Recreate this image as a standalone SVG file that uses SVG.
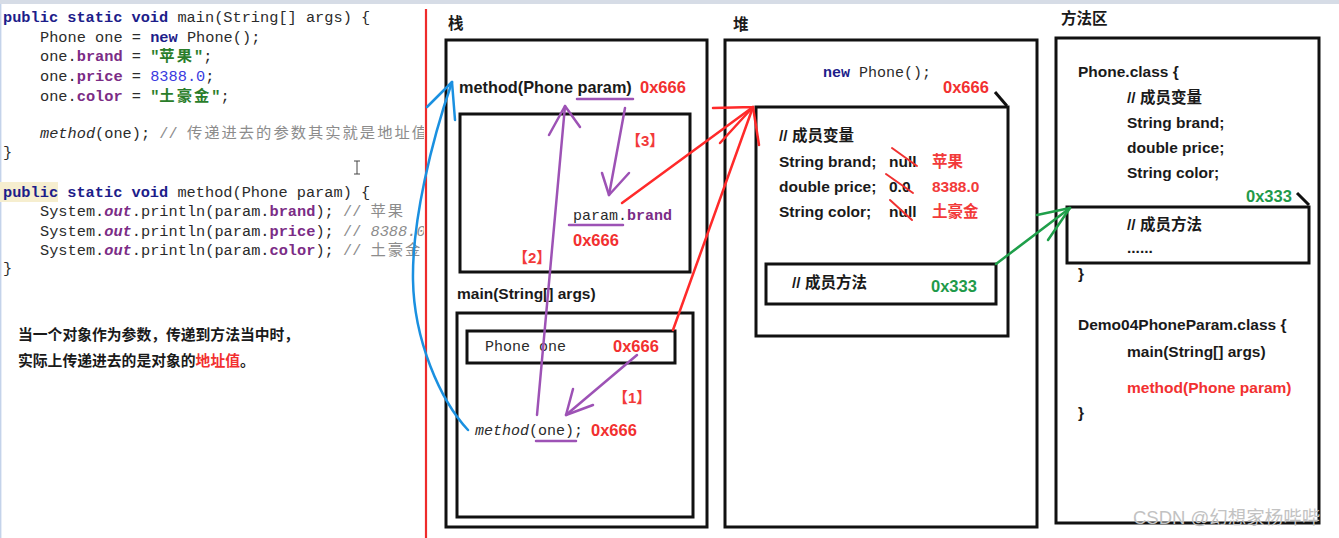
<svg xmlns="http://www.w3.org/2000/svg" width="1339" height="538" viewBox="0 0 1339 538">
  <style>
    .code { font-family: "Liberation Mono", "Noto Sans CJK SC", monospace; font-size: 15.3px; fill: #2b2b2b; }
    .kw { fill: #1d1d8a; font-weight: bold; }
    .fd { fill: #7b2c86; font-weight: bold; }
    .out { fill: #7b2c86; font-weight: bold; font-style: italic; }
    .st { fill: #2a7d2a; font-weight: bold; }
    .nu { fill: #3a3ae0; }
    .cm { fill: #8c8c8c; }
    .cj { letter-spacing: 2px; }
    .it { font-style: italic; }
    .lbl { font-family: "Liberation Sans", "Noto Sans CJK SC", sans-serif; font-weight: bold; font-size: 15.5px; fill: #1a1a1a; }
    .big { font-size: 16.3px; }
    .addr { font-family: "Liberation Sans", sans-serif; font-weight: bold; font-size: 16.5px; fill: #f23030; }
    .val { font-family: "Liberation Sans", "Noto Sans CJK SC", sans-serif; font-weight: bold; font-size: 15.5px; fill: #f23a3a; }
    .tag { font-family: "Liberation Sans", "Noto Sans CJK SC", sans-serif; font-weight: bold; font-size: 15px; fill: #f23a3a; }
    .grn { fill: #1f9a4a; }
    .mono { font-family: "Liberation Mono", monospace; font-size: 15px; fill: #2b2b2b; }
    .box { fill: none; stroke: #111; stroke-width: 3; }
    .ln { fill: none; stroke-width: 2.5; stroke-linecap: round; stroke-linejoin: round; }
    .pu { stroke: #9d52b5; }
    .rd { stroke: #ff2a2a; }
    .bl { stroke: #1a90e0; }
    .gn { stroke: #1f9f4a; }
    .strike { stroke: #f03030; stroke-width: 2; fill: none; stroke-linecap: round; }
  </style>
  <defs>
    <clipPath id="codeClip"><rect x="0" y="0" width="424" height="538"/></clipPath>
  </defs>

  <rect x="0" y="0" width="1339" height="538" fill="#ffffff"/>
  <rect x="0" y="0" width="1339" height="4" fill="#d6dce6"/>
  <line x1="0.7" y1="4" x2="0.7" y2="538" stroke="#c4d3ea" stroke-width="1.4"/>

  <!-- source code panel -->
  <g id="code" clip-path="url(#codeClip)">
    <rect x="0" y="182" width="58" height="20" fill="#f6eecf"/>
    <text class="code" x="3" y="22" xml:space="preserve"><tspan class="kw">public static void</tspan> main(String[] args) {</text>
    <text class="code" x="40" y="42" xml:space="preserve">Phone one = <tspan class="kw">new</tspan> Phone();</text>
    <text class="code" x="40" y="61" xml:space="preserve">one.<tspan class="fd">brand</tspan> = <tspan class="st">"<tspan class="cj">苹果</tspan>"</tspan>;</text>
    <text class="code" x="40" y="81" xml:space="preserve">one.<tspan class="fd">price</tspan> = <tspan class="nu">8388.0</tspan>;</text>
    <text class="code" x="40" y="101" xml:space="preserve">one.<tspan class="fd">color</tspan> = <tspan class="st">"<tspan class="cj">土豪金</tspan>"</tspan>;</text>
    <text class="code" x="40" y="138" xml:space="preserve"><tspan class="it">method</tspan>(one); <tspan class="cm">// <tspan class="cj">传递进去的参数其实就是地址值</tspan></tspan></text>
    <text class="code" x="3" y="157">}</text>
    <text class="code" x="3" y="197" xml:space="preserve"><tspan class="kw">public static void</tspan> method(Phone param) {</text>
    <text class="code" x="40" y="216" xml:space="preserve">System.<tspan class="out">out</tspan>.println(param.<tspan class="fd">brand</tspan>); <tspan class="cm">// <tspan class="cj">苹果</tspan></tspan></text>
    <text class="code" x="40" y="236" xml:space="preserve">System.<tspan class="out">out</tspan>.println(param.<tspan class="fd">price</tspan>); <tspan class="cm">// <tspan class="it">8388.0</tspan></tspan></text>
    <text class="code" x="40" y="255" xml:space="preserve">System.<tspan class="out">out</tspan>.println(param.<tspan class="fd">color</tspan>); <tspan class="cm">// <tspan class="cj">土豪金</tspan></tspan></text>
    <text class="code" x="3" y="273">}</text>
    <!-- text cursor -->
    <path d="M354,161 h6 M357,161 v13 M354,174 h6" stroke="#444" stroke-width="1" fill="none"/>
    <text class="lbl" x="18" y="340" style="font-size:14.8px">当一个对象作为参数，传递到方法当中时，</text>
    <text class="lbl" x="18" y="366" style="font-size:14.8px">实际上传递进去的是对象的<tspan fill="#f23030">地址值</tspan>。</text>
  </g>

  <line x1="426" y1="9" x2="426" y2="538" stroke="#ee2b2b" stroke-width="2.2"/>

  <!-- stack -->
  <g id="stack">
    <text class="lbl" x="448" y="29">栈</text>
    <rect class="box" x="446" y="40" width="261" height="487"/>
    <text class="lbl big" x="459" y="93">method(Phone param)</text>
    <text class="addr" x="640" y="93">0x666</text>
    <g id="method-frame">
      <rect class="box" x="460" y="114" width="230" height="158"/>
      <text class="mono" x="573" y="220">param.<tspan class="fd">brand</tspan></text>
      <text class="addr" x="573" y="246">0x666</text>
    </g>
    <text class="lbl" x="457" y="299">main(String[] args)</text>
    <g id="main-frame">
      <rect class="box" x="457" y="313" width="236" height="204"/>
      <rect class="box" x="467" y="331" width="208" height="32"/>
      <text class="mono" x="485" y="351" xml:space="preserve">Phone one</text>
      <text class="addr" x="613" y="352">0x666</text>
      <text class="mono" x="475" y="435"><tspan class="it">method</tspan>(one);</text>
      <text class="addr" x="591" y="436">0x666</text>
    </g>
  </g>

  <!-- heap -->
  <g id="heap">
    <text class="lbl" x="733" y="30">堆</text>
    <rect class="box" x="725" y="40" width="312" height="487"/>
    <text class="mono" x="823" y="77"><tspan class="kw">new</tspan> Phone();</text>
    <text class="addr" x="943" y="93">0x666</text>
    <g id="phone-object">
      <path class="box" d="M995,92 L1007,106"/>
      <rect class="box" x="756" y="107" width="252" height="229"/>
      <text class="lbl" x="779" y="141">// 成员变量</text>
      <text class="lbl" x="779" y="167">String brand;</text>
      <text class="lbl" x="779" y="192">double price;</text>
      <text class="lbl" x="779" y="217">String color;</text>
      <text class="lbl" x="889" y="167">null</text>
      <text class="lbl" x="889" y="192">0.0</text>
      <text class="lbl" x="889" y="217">null</text>
      <path class="strike" d="M892,148 L917,166 M886,174 L913,193 M890,200 L912,220"/>
      <text class="val" x="932" y="167">苹果</text>
      <text class="val" x="932" y="192">8388.0</text>
      <text class="val" x="932" y="217">土豪金</text>
      <rect class="box" x="766" y="264" width="230" height="40"/>
      <text class="lbl" x="792" y="288">// 成员方法</text>
      <text class="addr grn" x="931" y="292">0x333</text>
    </g>
  </g>

  <!-- method area -->
  <g id="method-area">
    <text class="lbl" x="1061" y="24">方法区</text>
    <rect class="box" x="1056" y="38" width="263" height="485"/>
    <text class="lbl" x="1078" y="77">Phone.class {</text>
    <text class="lbl" x="1127" y="103">// 成员变量</text>
    <text class="lbl" x="1127" y="128">String brand;</text>
    <text class="lbl" x="1127" y="153">double price;</text>
    <text class="lbl" x="1127" y="178">String color;</text>
    <text class="addr grn" x="1246" y="202">0x333</text>
    <path class="box" d="M1297,193 L1309,205"/>
    <rect class="box" x="1067" y="207" width="242" height="56"/>
    <text class="lbl" x="1127" y="230">// 成员方法</text>
    <text class="lbl" x="1127" y="253">......</text>
    <text class="lbl" x="1078" y="279">}</text>
    <text class="lbl" x="1078" y="330">Demo04PhoneParam.class {</text>
    <text class="lbl" x="1127" y="357">main(String[] args)</text>
    <text class="lbl" x="1127" y="393" style="fill:#f23030">method(Phone param)</text>
    <text class="lbl" x="1078" y="418">}</text>
  </g>

  <!-- connectors -->
  <g id="connectors">
    <!-- [1] argument copy -->
    <line class="ln pu" x1="637" y1="355" x2="566" y2="415"/>
    <polyline class="ln pu" points="573,389 566,415 593,405"/>
    <text class="tag" x="613" y="403">【1】</text>
    <!-- [2] call into method frame -->
    <line class="ln pu" x1="537" y1="415" x2="565" y2="106"/>
    <polyline class="ln pu" points="549,135 565,106 580,127"/>
    <text class="tag" x="513" y="263">【2】</text>
    <!-- [3] param use -->
    <line class="ln pu" x1="625" y1="108" x2="609" y2="195"/>
    <polyline class="ln pu" points="602,173 609,195 629,173"/>
    <text class="tag" x="626" y="146">【3】</text>
    <!-- underlines -->
    <line class="ln pu" x1="577" y1="99" x2="633" y2="99"/>
    <line class="ln pu" x1="569" y1="225" x2="623" y2="225"/>
    <line class="ln pu" x1="536" y1="441" x2="576" y2="441"/>
    <!-- references into the heap -->
    <line class="ln rd" x1="622" y1="203" x2="753" y2="107"/>
    <line class="ln rd" x1="673" y1="330" x2="753" y2="107"/>
    <path class="ln rd" d="M713,108 L753,107 M720,143 L753,107 M759,145 L753,107"/>
    <!-- method table reference -->
    <line class="ln gn" x1="996" y1="264" x2="1070" y2="208"/>
    <path class="ln gn" d="M1037,215 L1070,208 M1048,240 L1070,208"/>
    <!-- call flow -->
    <path class="ln bl" d="M468,430 C440,400 414,340 413,280 C412,220 432,140 452,82"/>
    <path class="ln bl" d="M427,107 L452,82 L455,120"/>
  </g>

  <text x="1133" y="524" font-family="Liberation Sans, Noto Sans CJK SC, sans-serif" font-size="18.5" fill="#c2c2c2">CSDN @幻想家杨哔哔</text>
</svg>
